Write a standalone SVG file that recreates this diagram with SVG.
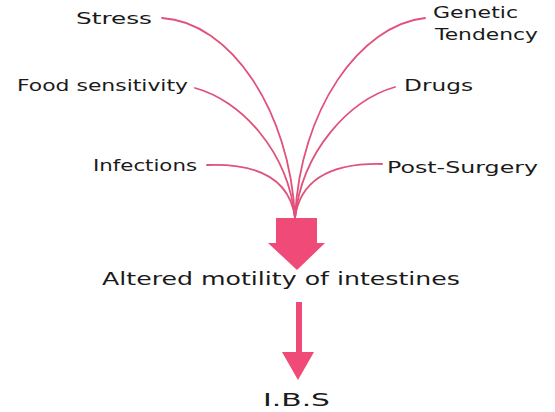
<svg xmlns="http://www.w3.org/2000/svg" width="555" height="412" viewBox="0 0 555 412">
<style>
.lbl{font-family:"DejaVu Sans","Liberation Sans",sans-serif;font-size:16.5px;fill:#1a1a1a}
.big{font-family:"DejaVu Sans","Liberation Sans",sans-serif;font-size:18.5px;fill:#1a1a1a}
.cur{fill:none;stroke:#e0517b;stroke-width:1.8;stroke-linecap:round}
.arr{fill:#f04a78}
</style>
<rect width="555" height="412" fill="#ffffff"/>
<g id="connectors">
<path class="cur" d="M162,18 C230,22 290,110 295,218"/>
<path class="cur" d="M425,18 C360,25 300,110 295,218"/>
<path class="cur" d="M195,88 C240,100 288,150 295,218"/>
<path class="cur" d="M395,87 C350,100 302,150 295,218"/>
<path class="cur" d="M207,165 C260,163 290,180 295,218"/>
<path class="cur" d="M382,164 C330,163 300,180 295,218"/>
<polygon class="arr" points="276,218 317,218 317,243 325,243 297,270 268,243 276,243"/>
<polygon class="arr" points="296,302 302,302 302,352 314,352 298,380 282,352 296,352"/>
</g>
<g id="stress"><text class="lbl" x="76" y="24" textLength="76" lengthAdjust="spacingAndGlyphs">Stress</text></g>
<g id="genetic"><text class="lbl" x="433" y="18" textLength="85" lengthAdjust="spacingAndGlyphs">Genetic</text><text class="lbl" x="435" y="40" textLength="103" lengthAdjust="spacingAndGlyphs">Tendency</text></g>
<g id="food"><text class="lbl" x="17" y="91" textLength="171" lengthAdjust="spacingAndGlyphs">Food sensitivity</text></g>
<g id="drugs"><text class="lbl" x="404" y="91" textLength="69" lengthAdjust="spacingAndGlyphs">Drugs</text></g>
<g id="infections"><text class="lbl" x="93" y="171" textLength="104" lengthAdjust="spacingAndGlyphs">Infections</text></g>
<g id="postsurgery"><text class="lbl" x="387" y="173" textLength="151" lengthAdjust="spacingAndGlyphs">Post-Surgery</text></g>
<g id="altered"><text class="big" x="102" y="285" textLength="358" lengthAdjust="spacingAndGlyphs">Altered motility of intestines</text></g>
<g id="ibs"><text class="big" x="263" y="406" font-size="19.5" textLength="67" lengthAdjust="spacingAndGlyphs">I.B.S</text></g>
</svg>
